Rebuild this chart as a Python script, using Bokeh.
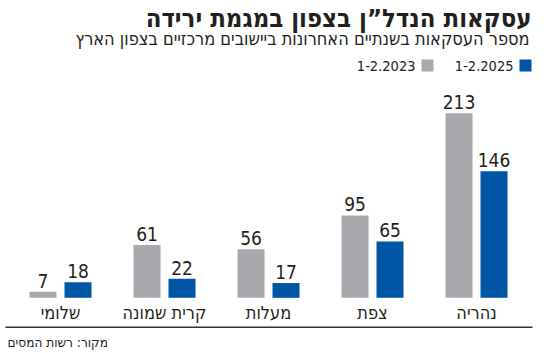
from bokeh.plotting import figure
from bokeh.models import Range1d, ColumnDataSource
from bokeh.core.properties import value
from bokeh.embed import file_html
from bokeh.resources import INLINE

# ---- data (right-to-left order, as read in the chart) ----
cities = ["נהריה", "צפת", "מעלות", "קרית שמונה", "שלומי"]
values_2023 = [213, 95, 56, 61, 7]
values_2025 = [146, 65, 17, 22, 18]
label_2023 = "1-2.2023"
label_2025 = "1-2.2025"
title_text = "עסקאות הנדל\u201dן בצפון במגמת ירידה"
subtitle_text = "מספר העסקאות בשנתיים האחרונות ביישובים מרכזיים בצפון הארץ"
source_text = "מקור: רשות המסים"

# ---- styling ----
GRAY = "#a7a9ac"
BLUE = "#0055a5"
TXT = "#231f20"
FONT = "DejaVu Sans Condensed"

W, H = 550, 353
X0_PX, STEP = 476.0, 104.0       # pixel centre of first category, pixels per category
BASE_PX, K = 297.3, 0.8667       # baseline pixel row, pixels per unit
SHIFT = 6.0                      # text baseline correction (pixels)


def xd(px):
    return (X0_PX - px) / STEP


def yd(py):
    return (BASE_PX - py) / K


def yt(py):
    return yd(py - SHIFT)


p = figure(width=W, height=H, output_backend="svg", toolbar_location=None,
           x_range=Range1d(xd(0), xd(W)), y_range=Range1d(yd(H), yd(0)),
           min_border=0, outline_line_color=None, background_fill_color="white",
           border_fill_color="white")
p.axis.visible = False
p.grid.visible = False

idx = list(range(len(cities)))
OFF = 17.5 / STEP
BW = 27.0 / STEP
x23 = [i + OFF for i in idx]
x25 = [i - OFF for i in idx]

src = ColumnDataSource(dict(x23=x23, x25=x25, v23=values_2023, v25=values_2025,
                            t23=[str(v) for v in values_2023],
                            t25=[str(v) for v in values_2025],
                            xc=idx, city=cities))

p.vbar(x="x23", top="v23", bottom=0, width=BW, source=src, fill_color=GRAY, line_color=None)
p.vbar(x="x25", top="v25", bottom=0, width=BW, source=src, fill_color=BLUE, line_color=None)

gap = (5.0 + SHIFT) / K
src.data["y23"] = [v + gap for v in values_2023]
src.data["y25"] = [v + gap for v in values_2025]
p.text(x="x23", y="y23", text="t23", source=src, text_align="center", text_baseline="alphabetic",
       text_font=value(FONT), text_font_size="19px", text_color=TXT)
p.text(x="x25", y="y25", text="t25", source=src, text_align="center", text_baseline="alphabetic",
       text_font=value(FONT), text_font_size="19px", text_color=TXT)

# category labels
src.data["ycat"] = [yt(318)] * len(cities)
p.text(x="xc", y="ycat", text="city", source=src, text_align="center", text_baseline="alphabetic",
       text_font=value(FONT), text_font_size="18px", text_color=TXT)

# bottom rule
p.line(x=[xd(5), xd(532)], y=[yd(326.7), yd(326.7)], line_color="#333333", line_width=1.6)

# title / subtitle
p.text(x=[xd(531)], y=[yt(23)], text=[title_text], text_align="right", text_baseline="alphabetic",
       text_font=value(FONT), text_font_style="bold", text_font_size="25.5px", text_color=TXT)
p.text(x=[xd(529)], y=[yt(44)], text=[subtitle_text], text_align="right", text_baseline="alphabetic",
       text_font=value(FONT), text_font_size="18px", text_color=TXT)

# legend
p.rect(x=[xd(525)], y=[yd(65)], width=12 / STEP, height=12 / K, fill_color=BLUE, line_color=None)
p.rect(x=[xd(427)], y=[yd(65)], width=12 / STEP, height=12 / K, fill_color=GRAY, line_color=None)
p.text(x=[xd(513), xd(415)], y=[yt(71), yt(71)], text=[label_2025, label_2023], text_align="right",
       text_baseline="alphabetic", text_font=value(FONT), text_font_size="14.5px", text_color=TXT)

# source
p.text(x=[xd(7)], y=[yt(347)], text=[source_text], text_align="left", text_baseline="alphabetic",
       text_font=value(FONT), text_font_size="13.5px", text_color=TXT)

open("out.html", "w").write(file_html(p, INLINE))
